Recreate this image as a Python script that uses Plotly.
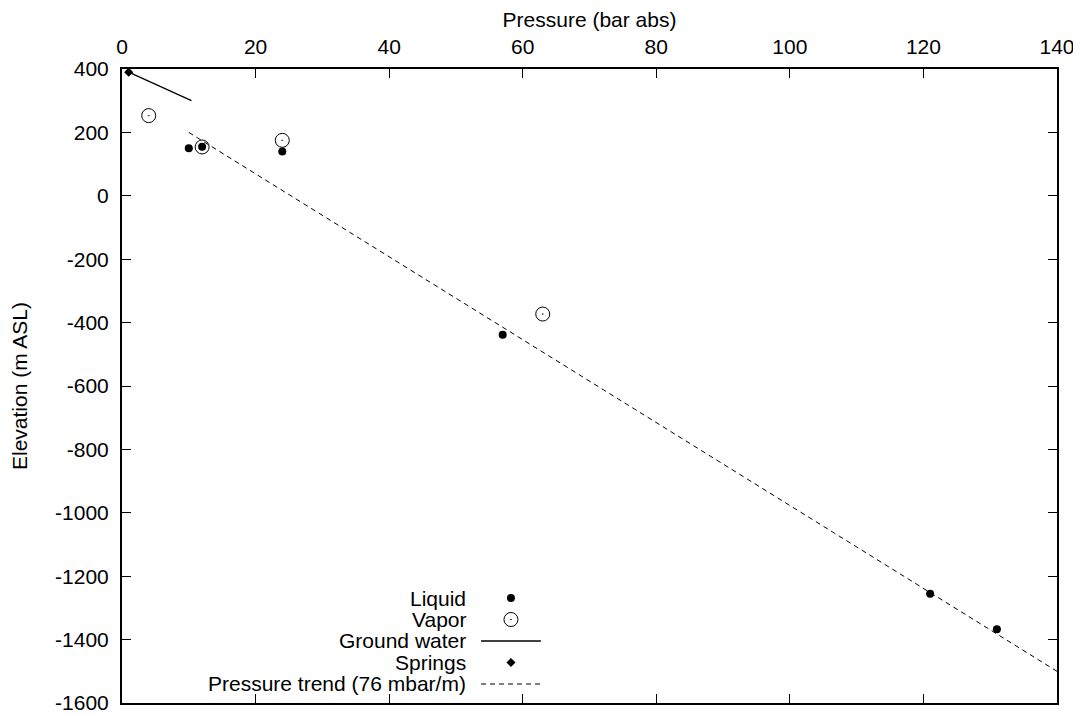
import plotly.graph_objects as go

# ---- data ----
liquid_p = [10.0, 12.0, 24.0, 57.0, 121.0, 131.0]
liquid_z = [150, 155, 140, -438, -1255, -1367]
vapor_p = [4.0, 12.0, 24.0, 63.0]
vapor_z = [253, 154, 175, -373]
ground_p = [1.0, 10.4]
ground_z = [390, 300]
springs_p = [1.0]
springs_z = [390]
trend_p = [10, 140]
trend_z = [200, -1500]

x_ticks = [0, 20, 40, 60, 80, 100, 120, 140]
y_ticks = [400, 200, 0, -200, -400, -600, -800, -1000, -1200, -1400, -1600]
y_tick_labels = [str(v) for v in y_ticks]  # plain hyphen-minus as in the original

legend_names = ["Liquid", "Vapor", "Ground water", "Springs", "Pressure trend (76 mbar/m)"]

FONT = "Liberation Sans, Arial, Helvetica, sans-serif"
FS = 21

fig = go.Figure()

fig.add_trace(go.Scatter(x=trend_p, y=trend_z, mode="lines",
                         line=dict(color="black", width=1, dash="5px,4px"),
                         showlegend=False, name=legend_names[4]))
fig.add_trace(go.Scatter(x=ground_p, y=ground_z, mode="lines",
                         line=dict(color="black", width=1.3),
                         showlegend=False, name=legend_names[2]))
fig.add_trace(go.Scatter(x=vapor_p, y=vapor_z, mode="markers",
                         marker=dict(symbol="circle-open-dot", size=14, color="black",
                                     line=dict(width=1, color="black")),
                         showlegend=False, name=legend_names[1]))
fig.add_trace(go.Scatter(x=liquid_p, y=liquid_z, mode="markers",
                         marker=dict(symbol="circle", size=8, color="black"),
                         showlegend=False, name=legend_names[0]))
fig.add_trace(go.Scatter(x=springs_p, y=springs_z, mode="markers", cliponaxis=False,
                         marker=dict(symbol="diamond", size=7, color="black"),
                         showlegend=False, name=legend_names[3]))

# ---- custom legend (text left of sample, gnuplot style) on an overlay axis ----
row_y = [0.1656, 0.1317, 0.0978, 0.0639, 0.0300]
text_x = 0.370
sym_x = 0.416
line_x = [0.384, 0.448]

fig.add_trace(go.Scatter(x=[sym_x], y=[row_y[0]], xaxis="x2", yaxis="y2", mode="markers",
                         marker=dict(symbol="circle", size=8, color="black"), showlegend=False,
                         hoverinfo="skip"))
fig.add_trace(go.Scatter(x=[sym_x], y=[row_y[1]], xaxis="x2", yaxis="y2", mode="markers",
                         marker=dict(symbol="circle-open-dot", size=14, color="black",
                                     line=dict(width=1, color="black")), showlegend=False,
                         hoverinfo="skip"))
fig.add_trace(go.Scatter(x=line_x, y=[row_y[2], row_y[2]], xaxis="x2", yaxis="y2", mode="lines",
                         line=dict(color="black", width=1.3), showlegend=False, hoverinfo="skip"))
fig.add_trace(go.Scatter(x=[sym_x], y=[row_y[3]], xaxis="x2", yaxis="y2", mode="markers",
                         marker=dict(symbol="diamond", size=7, color="black"), showlegend=False,
                         hoverinfo="skip"))
fig.add_trace(go.Scatter(x=line_x, y=[row_y[4], row_y[4]], xaxis="x2", yaxis="y2", mode="lines",
                         line=dict(color="black", width=1, dash="5px,4px"), showlegend=False,
                         hoverinfo="skip"))

annotations = []
for name, yy in zip(legend_names, row_y):
    annotations.append(dict(text=name, x=text_x, y=yy, xref="paper", yref="paper",
                            xanchor="right", yanchor="middle", showarrow=False,
                            font=dict(family=FONT, size=FS, color="black")))

# page body has an 8px default margin, so the figure is 8px smaller and shifted
fig.update_layout(
    width=1073, height=707,
    margin=dict(l=114, r=24, t=61, b=12),
    paper_bgcolor="white", plot_bgcolor="white",
    font=dict(family=FONT, size=FS, color="black"),
    showlegend=False,
    annotations=annotations,
    xaxis=dict(range=[0, 140], side="top", tickvals=x_ticks, ticks="inside", ticklen=9,
               tickwidth=1.2, tickcolor="black", showline=True, linecolor="black", linewidth=2,
               mirror="ticks", showgrid=False, zeroline=False, automargin=False,
               title=dict(text="Pressure (bar abs)", standoff=10,
                          font=dict(family=FONT, size=FS, color="black")),
               ticklabelstandoff=5),
    yaxis=dict(range=[-1600, 400], tickvals=y_ticks, ticktext=y_tick_labels, ticks="inside",
               ticklen=9, tickwidth=1.2, tickcolor="black", showline=True, linecolor="black",
               linewidth=2, mirror="ticks", showgrid=False, zeroline=False, automargin=False,
               title=dict(text="Elevation (m ASL)", standoff=24,
                          font=dict(family=FONT, size=FS, color="black")),
               ticklabelstandoff=7),
    xaxis2=dict(range=[0, 1], overlaying="x", visible=False, fixedrange=True),
    yaxis2=dict(range=[0, 1], overlaying="y", visible=False, fixedrange=True),
)

fig.write_html("out.html")
